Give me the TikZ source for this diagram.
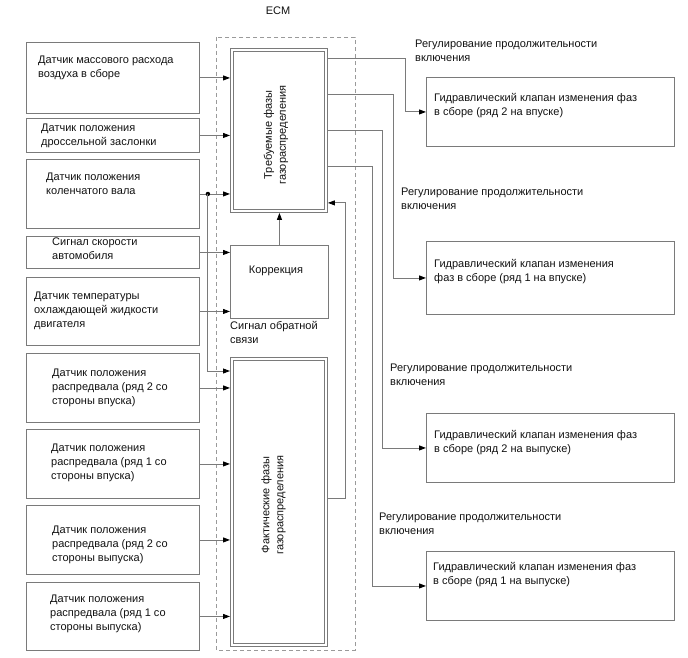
\documentclass[tikz,border=0pt]{standalone}
\usepackage{fontspec}
\setmainfont{Liberation Sans}
\usetikzlibrary{arrows.meta,positioning}
\definecolor{vvtInk}{HTML}{111111}
\definecolor{vvtLine}{HTML}{7A7A7A}
\definecolor{vvtFrame}{HTML}{9A9A9A}
\tikzset{
  every picture/.style={font=\fontsize{11}{14}\selectfont, text=vvtInk},
  vvt box/.style={draw=vvtLine, line width=0.9pt, anchor=north west,
    inner sep=0pt, minimum width=173pt},
  vvt valve/.style={vvt box, minimum width=248pt},
  vvt double/.style={vvt box, minimum width=97pt},
  vvt inner/.style={draw=vvtLine, line width=0.9pt},
  vvt frame/.style={draw=vvtFrame, line width=0.9pt, dash pattern=on 4pt off 3pt},
  vvt text/.style={align=left, anchor=west, inner sep=0pt},
  vvt arrow/.style={-{Triangle[length=7pt,width=5pt,black]},
    draw=vvtLine, line width=0.9pt},
}
\begin{document}
\begin{tikzpicture}[x=1pt,y=-1pt]
  \useasboundingbox (0,0) rectangle (688,658);
  % ECM frame
  \draw[vvt frame] (216,37) rectangle (355,650);
  \node (ecm) at (278,11) {ECM};
  % sensors
  \node[vvt box, minimum height=71pt] (maf) at (26,42) {};
  \node[vvt box, minimum height=34pt] (tps) at (26,118) {};
  \node[vvt box, minimum height=69pt] (ckp) at (26,159) {};
  \node[vvt box, minimum height=32pt] (vss) at (26,236) {};
  \node[vvt box, minimum height=68pt] (ect) at (26,277) {};
  \node[vvt box, minimum height=69pt] (camA) at (26,353) {};
  \node[vvt box, minimum height=69pt] (camB) at (26,429) {};
  \node[vvt box, minimum height=69pt] (camC) at (26,505) {};
  \node[vvt box, minimum height=68pt] (camD) at (26,582) {};
  \node[vvt text] at (38,68) {Датчик массового расхода\\воздуха в сборе};
  \node[vvt text] at (41,135.5) {Датчик положения\\дроссельной заслонки};
  \node[vvt text] at (46,184) {Датчик положения\\коленчатого вала};
  \node[vvt text] at (52,249) {Сигнал скорости\\автомобиля};
  \node[vvt text] at (34,311) {Датчик температуры\\охлаждающей жидкости\\двигателя};
  \node[vvt text] at (52,388) {Датчик положения\\распредвала (ряд 2 со\\стороны впуска)};
  \node[vvt text] at (51,463) {Датчик положения\\распредвала (ряд 1 со\\стороны впуска)};
  \node[vvt text] at (52,545) {Датчик положения\\распредвала (ряд 2 со\\стороны выпуска)};
  \node[vvt text] at (50,614) {Датчик положения\\распредвала (ряд 1 со\\стороны выпуска)};
  % ECM blocks
  \node[vvt double, minimum height=164pt] (req) at (230,48) {};
  \draw[vvt inner] ([shift={(3,3)}]req.north west) rectangle ([shift={(-3,-3)}]req.south east);
  \node[vvt box, minimum width=98pt, minimum height=73pt] (cor) at (230,245) {};
  \node[vvt double, minimum height=289pt] (act) at (230,357) {};
  \draw[vvt inner] ([shift={(3,3)}]act.north west) rectangle ([shift={(-3,-3)}]act.south east);
  \node[rotate=90, align=center] at (276,135) {Требуемые фазы\\газораспределения};
  \node at (276,271) {Коррекция};
  \node[rotate=90, align=center] at (273.5,505) {Фактические фазы\\газораспределения};
  \node[vvt text, anchor=north west] (fb) at (230,321) {Сигнал обратной\\связи};
  % valves
  \node[vvt valve, minimum height=69pt] (vlvA) at (426,77) {};
  \node[vvt valve, minimum height=73pt] (vlvB) at (426,241) {};
  \node[vvt valve, minimum height=69pt] (vlvC) at (426,413) {};
  \node[vvt valve, minimum height=69pt] (vlvD) at (426,551) {};
  \node[vvt text] at (434,105.5) {Гидравлический клапан изменения фаз\\в сборе (ряд 2 на впуске)};
  \node[vvt text] at (434,272) {Гидравлический клапан изменения\\фаз в сборе (ряд 1 на впуске)};
  \node[vvt text] at (434,442.5) {Гидравлический клапан изменения фаз\\в сборе (ряд 2 на выпуске)};
  \node[vvt text] at (433,574.5) {Гидравлический клапан изменения фаз\\в сборе (ряд 1 на выпуске)};
  \node[vvt text, anchor=north west] at (415,40) {Регулирование продолжительности\\включения};
  \node[vvt text, anchor=north west] at (401,188) {Регулирование продолжительности\\включения};
  \node[vvt text, anchor=north west] at (390,364) {Регулирование продолжительности\\включения};
  \node[vvt text, anchor=north west] at (379,513) {Регулирование продолжительности\\включения};
  % inputs
  \draw[vvt arrow] (maf.east) -- (maf.east -| req.west);
  \draw[vvt arrow] (tps.east) -- (tps.east -| req.west);
  \draw[vvt arrow] (ckp.east) -- (ckp.east -| req.west);
  \coordinate (split) at ([xshift=8pt]ckp.east);
  \fill (split) circle (2.2pt);
  \draw[vvt arrow] (split) |- ([yshift=-14pt]act.north west);
  \draw[vvt arrow] (vss.east) -- (vss.east -| cor.west);
  \draw[vvt arrow] (ect.east) -- (ect.east -| cor.west);
  \draw[vvt arrow] (camA.east) -- (camA.east -| act.west);
  \draw[vvt arrow] (camB.east) -- (camB.east -| act.west);
  \draw[vvt arrow] (camC.east) -- (camC.east -| act.west);
  \draw[vvt arrow] (camD.east) -- (camD.east -| act.west);
  \draw[vvt arrow] (cor.north) -- (cor.north |- req.south);
  \draw[vvt arrow] ([yshift=3.5pt]act.east) -- ++(18,0) |- ([yshift=10pt]req.south east);
  % outputs
  \draw[vvt arrow] ([yshift=72pt]req.east) -| ([xshift=-21pt]vlvA.west) -- (vlvA.west);
  \draw[vvt arrow] ([yshift=36pt]req.east) -| ([xshift=-33pt]vlvB.west) -- (vlvB.west);
  \draw[vvt arrow] (req.east) -| ([xshift=-44pt]vlvC.west) -- (vlvC.west);
  \draw[vvt arrow] ([yshift=-36pt]req.east) -| ([xshift=-54pt]vlvD.west) -- (vlvD.west);
\end{tikzpicture}
\end{document}
